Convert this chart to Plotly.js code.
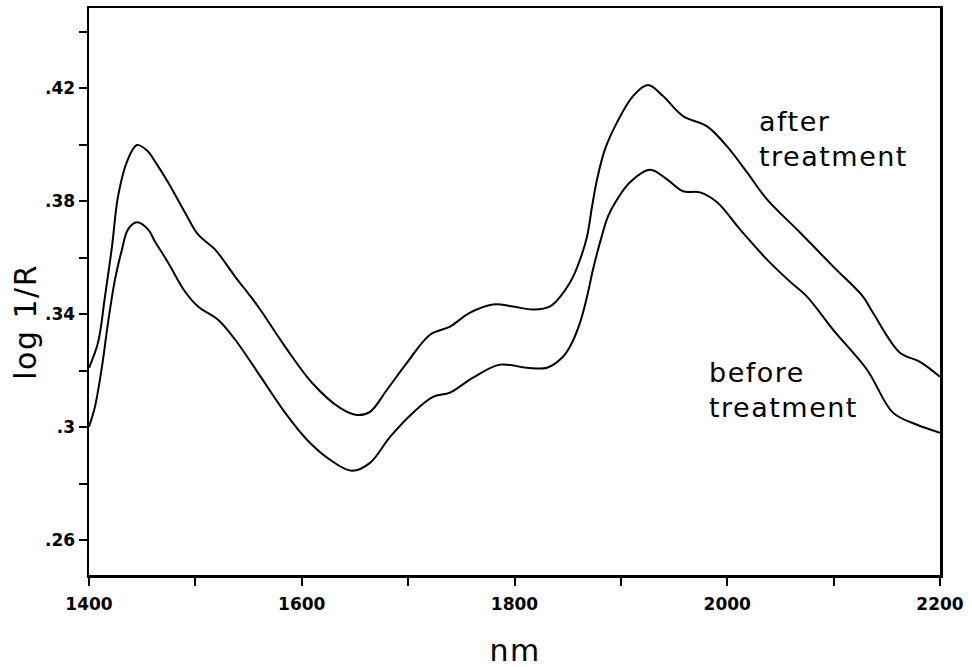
<!DOCTYPE html>
<html>
<head>
<meta charset="utf-8">
<script src="https://cdn.plot.ly/plotly-3.0.1.min.js"></script>
<style>
html,body{margin:0;padding:0;background:#fff;}
#chart{width:972px;height:667px;}
#chart .annotation-text{letter-spacing:1.5px;}
</style>
</head>
<body>
<div id="chart"></div>
<script>
// wavelength (nm) and log 1/R for the "after treatment" curve
const afterNm = [1400,1408.5,1415.0,1421.6,1427.3,1435.7,1445.1,1455.5,1462.0,1474.3,1490.2,1502.5,1518.4,1537.3,1558.9,1584.3,1609.6,1636.0,1651.9,1664.2,1680.1,1699.0,1720.6,1739.4,1758.2,1779.8,1798.6,1817.4,1833.4,1852.2,1861.6,1868.2,1872.9,1877.6,1885.1,1896.4,1911.4,1925.5,1939.6,1958.4,1981.0,1999.8,2018.6,2037.4,2068.4,2099.4,2127.6,2137.0,2162.4,2181.2,2200];
const afterVal = [0.3210,0.3299,0.3462,0.3639,0.3817,0.3940,0.3999,0.3976,0.3941,0.3867,0.3760,0.3682,0.3629,0.3533,0.3427,0.3285,0.3157,0.3068,0.3043,0.3054,0.3132,0.3228,0.3327,0.3356,0.3405,0.3434,0.3427,0.3416,0.3427,0.3512,0.3593,0.3675,0.3781,0.3877,0.3984,0.4079,0.4172,0.4211,0.4172,0.4101,0.4065,0.3994,0.3902,0.3806,0.3689,0.3569,0.3462,0.3405,0.3263,0.3231,0.3178];

// wavelength (nm) and log 1/R for the "before treatment" curve
const beforeNm = [1400,1405.6,1412.2,1417.9,1424.4,1431.0,1436.7,1445.1,1455.5,1462.0,1474.3,1490.2,1502.5,1521.3,1537.3,1558.9,1584.3,1604.9,1626.6,1647.2,1664.2,1683.0,1704.6,1723.4,1739.4,1761.0,1786.4,1811.8,1830.6,1845.6,1852.2,1861.6,1868.2,1873.8,1880.4,1887.9,1896.4,1908.6,1927.4,1943.4,1958.4,1974.4,1990.4,2012.0,2037.4,2059.0,2075.0,2099.4,2131.4,2155.8,2178.4,2200];
const beforeVal = [0.3001,0.3072,0.3214,0.3370,0.3522,0.3629,0.3700,0.3725,0.3700,0.3657,0.3583,0.3480,0.3427,0.3380,0.3310,0.3192,0.3051,0.2955,0.2884,0.2845,0.2873,0.2965,0.3051,0.3107,0.3122,0.3175,0.3221,0.3210,0.3210,0.3249,0.3285,0.3370,0.3462,0.3558,0.3654,0.3746,0.3806,0.3867,0.3911,0.3877,0.3835,0.3831,0.3796,0.3700,0.3593,0.3515,0.3462,0.3345,0.3203,0.3051,0.3008,0.2980];

// tick labels
const xTickVals = [1400,1600,1800,2000,2200];
const xTickText = ["1400","1600","1800","2000","2200"];
const yTickVals = [0.26,0.30,0.34,0.38,0.42];
const yTickText = [".26",".3",".34",".38",".42"];

const lineStyle = {color:'#000', width:2, shape:'spline', smoothing:1};
const traces = [
  {x: afterNm, y: afterVal, mode:'lines', line: lineStyle, name:'after treatment', hoverinfo:'skip'},
  {x: beforeNm, y: beforeVal, mode:'lines', line: lineStyle, name:'before treatment', hoverinfo:'skip'}
];

const tickFont = {family:'"DejaVu Sans", sans-serif', size:17, color:'#000', weight:'bold'};
const labelFont = {family:'"DejaVu Sans", "Noto Sans", sans-serif', size:27, color:'#000'};
const titleFont = {family:'"DejaVu Sans", "Noto Sans", sans-serif', size:30, color:'#000'};

const layout = {
  width:972, height:667,
  margin:{l:89, r:32, t:8, b:92},
  paper_bgcolor:'#fff', plot_bgcolor:'#fff',
  showlegend:false,
  xaxis:{
    range:[1400,2200], showgrid:false, zeroline:false,
    showline:true, mirror:true, linecolor:'#000', linewidth:2.5,
    ticks:'outside', ticklen:8, tickwidth:2, tickcolor:'#000',
    tickmode:'array', tickvals:xTickVals, ticktext:xTickText,
    tickfont:tickFont, ticklabelstandoff:4,
    minor:{tickmode:'linear', tick0:1500, dtick:200, ticks:'outside', ticklen:8, tickwidth:2, tickcolor:'#000', showgrid:false}
  },
  yaxis:{
    range:[0.2476,0.4484], showgrid:false, zeroline:false,
    showline:true, mirror:true, linecolor:'#000', linewidth:2.5,
    ticks:'outside', ticklen:8, tickwidth:2, tickcolor:'#000',
    tickmode:'array', tickvals:yTickVals, ticktext:yTickText,
    tickfont:tickFont,
    minor:{tickmode:'linear', tick0:0.28, dtick:0.04, ticks:'outside', ticklen:8, tickwidth:2, tickcolor:'#000', showgrid:false}
  },
  annotations:[
    {xref:'x', yref:'y', x:2028, y:0.4145, xanchor:'left', yanchor:'top', align:'left', showarrow:false,
     text:'after<br>treatment', font:labelFont},
    {xref:'x', yref:'y', x:1981, y:0.3255, xanchor:'left', yanchor:'top', align:'left', showarrow:false,
     text:'before<br>treatment', font:labelFont},
    {xref:'paper', yref:'paper', x:0, y:0.5, xanchor:'center', yanchor:'middle', showarrow:false,
     text:'log 1/R', textangle:-90, font:titleFont, xshift:-64, yshift:-31},
    {xref:'paper', yref:'paper', x:0.5, y:0, xanchor:'center', yanchor:'middle', showarrow:false,
     text:'nm', font:titleFont, yshift:-75}
  ]
};

Plotly.newPlot('chart', traces, layout, {staticPlot:true, displayModeBar:false});
</script>
</body>
</html>
